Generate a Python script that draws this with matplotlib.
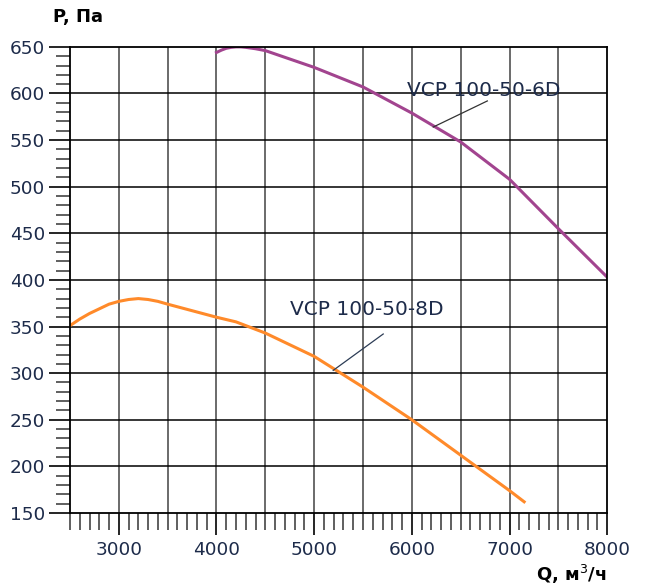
import numpy as np
import matplotlib
matplotlib.use("Agg")
from matplotlib import pyplot as plt
from matplotlib.ticker import MultipleLocator

plt.rcParams['font.family'] = ['DejaVu Sans']

# curve data (Q in m3/h, P in Pa)
q_6d = [4000, 4050, 4100, 4150, 4200, 4250, 4300, 4400, 4500, 5000, 5500, 6000, 6500, 7000, 7500, 8000]
p_6d = [644, 646.5, 648.5, 649.5, 650, 650, 649.5, 648, 646, 628, 607, 579, 548, 508, 455, 403]

q_8d = [2500, 2600, 2700, 2800, 2900, 3000, 3100, 3200, 3300, 3400, 3500, 4000, 4200,
        4500, 5000, 5500, 6000, 6500, 7000, 7150]
p_8d = [351, 358, 364, 369, 374, 377, 379, 380, 379, 377, 374, 360, 355,
        343, 318, 285, 250, 212, 174, 162]

label_6d = "VCP 100-50-6D"
label_8d = "VCP 100-50-8D"

x_ticks = [3000, 4000, 5000, 6000, 7000, 8000]
y_ticks = [150, 200, 250, 300, 350, 400, 450, 500, 550, 600, 650]

tick_color = "#1d2b4a"

fig = plt.figure(figsize=(6.48, 5.86), dpi=100)
ax = fig.add_axes([0.108, 0.1246, 0.829, 0.7954])

ax.set_xlim(2500, 8000)
ax.set_ylim(150, 650)

# grid
for x in np.arange(3000, 8000, 500):
    ax.axvline(x, color="#6a6a6a", lw=1.4, zorder=1)
for y in np.arange(200, 650, 50):
    ax.axhline(y, color="black", lw=1.1, zorder=1)

ax.plot(q_6d, p_6d, color="#a2448f", lw=2.2, zorder=3)
ax.plot(q_8d, p_8d, color="#ff8a2a", lw=2.2, zorder=3)

# leader lines and labels
ax.plot([6219, 6773], [564, 592], color="#333333", lw=0.9, zorder=4)
ax.plot([5195, 5707], [303, 342], color="#2c3c55", lw=0.9, zorder=4)
ax.text(5953, 603, label_6d, fontsize=14.5, color=tick_color, va="center", ha="left", zorder=5)
ax.text(4754, 368, label_8d, fontsize=14.5, color=tick_color, va="center", ha="left", zorder=5)

ax.set_xticks(x_ticks)
ax.set_yticks(y_ticks)
ax.xaxis.set_minor_locator(MultipleLocator(100))
ax.yaxis.set_minor_locator(MultipleLocator(10))

ax.tick_params(axis="x", which="major", length=16, width=1.2, color="black",
               labelsize=13.3, labelcolor=tick_color, pad=4)
ax.tick_params(axis="x", which="minor", length=12, width=1.2, color="#444444")
ax.tick_params(axis="y", which="major", length=15, width=1.2, color="black",
               labelsize=13.3, labelcolor=tick_color, pad=3)
ax.tick_params(axis="y", which="minor", length=10, width=1.2, color="#444444")

for s in ax.spines.values():
    s.set_linewidth(1.3)
    s.set_zorder(6)

fig.text(53 / 648, 1 - 17 / 586, "P, Па", fontsize=13, fontweight="bold", va="center", ha="left")
fig.text(607 / 648, 1 - 574 / 586, "Q, м$^3$/ч", fontsize=13, fontweight="bold", va="center", ha="right")

fig.savefig("out.png", dpi=100)
